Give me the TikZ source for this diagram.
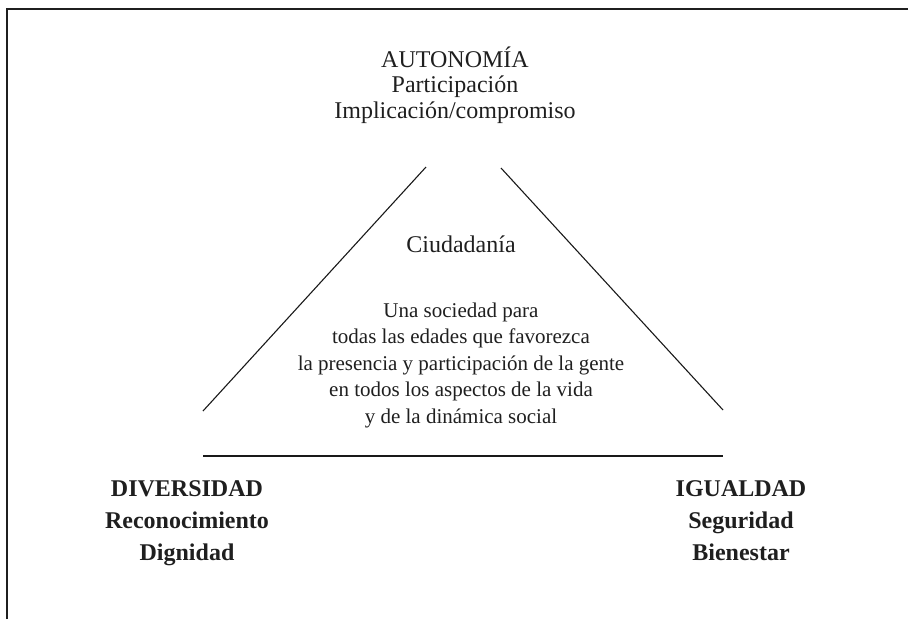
\documentclass[tikz,border=0pt]{standalone}
\usepackage{fontspec}
\setmainfont{Liberation Serif}
\begin{document}
\begin{tikzpicture}[x=1pt,y=-1pt]
	\tikzstyle{frame line}=[draw,line width=2pt,black!88]
	\tikzstyle{edge}=[draw,line width=1.1pt,black!90]
	\tikzstyle{top label}=[align=center,inner sep=0pt,anchor=north,text=black!88,font=\fontsize{24}{25.5}\selectfont]
	\tikzstyle{inner label}=[align=center,inner sep=0pt,anchor=north,text=black!88,font=\fontsize{21}{26.5}\selectfont]
	\tikzstyle{corner label}=[align=center,inner sep=0pt,anchor=north,text=black!88,font=\fontsize{24}{32}\selectfont\bfseries]
	
	\useasboundingbox (0,0) rectangle (908,619);
	\path[frame line] (7,619) -- (7,9) -- (908,9);
	
	% corners of the open triangle
	\coordinate (lt) at (426,167);
	\coordinate (lb) at (203,411);
	\coordinate (rt) at (501,168);
	\coordinate (rb) at (723,410);
	\coordinate (bl) at (203,456);
	\coordinate (br) at (723,456);
	
	\node[top label] (autonomia) at (455,46.5) {AUTONOMÍA\\Participación\\Implicación/compromiso};
	\node[anchor=base,inner sep=0pt,text=black!88,font=\fontsize{24}{26}\selectfont] (ciudadania) at (461,252) {Ciudadanía};
	\node[inner label] (sociedad) at (461,302.5) {Una sociedad para\\todas las edades que favorezca\\la presencia y participación de la gente\\en todos los aspectos de la vida\\y de la dinámica social};
	\node[corner label] (diversidad) at (187,480) {DIVERSIDAD\\Reconocimiento\\Dignidad};
	\node[corner label] (igualdad) at (741,480) {IGUALDAD\\Seguridad\\Bienestar};
	
	\draw[edge] (lb) -- (lt);
	\draw[edge] (rt) -- (rb);
	\draw[edge] (bl) -- (br);
\end{tikzpicture}
\end{document}
